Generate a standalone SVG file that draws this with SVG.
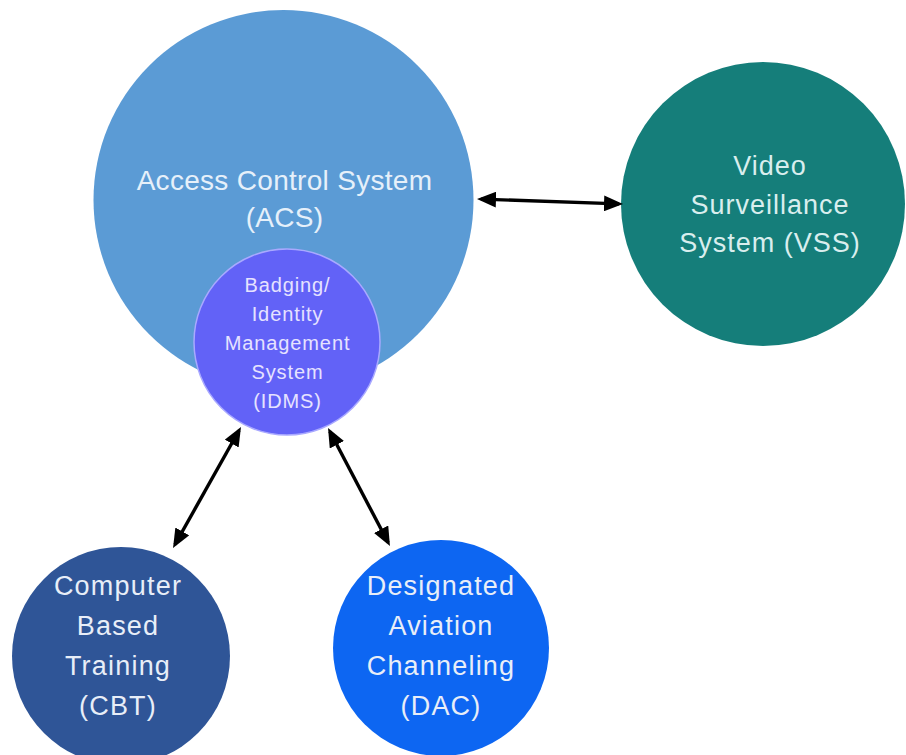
<svg xmlns="http://www.w3.org/2000/svg" width="906" height="755" viewBox="0 0 906 755">
<defs>
<style>
text{font-family:"Liberation Sans","Open Sans",Arial,sans-serif;text-anchor:middle}
.acs{font-size:28px;fill:#e6f0fa;letter-spacing:0.3px}
.vss{font-size:27px;fill:#d9eeee;letter-spacing:1px}
.idms{font-size:20px;fill:#e6e2ff;letter-spacing:0.9px}
.low{font-size:27px;fill:#e8eef8;letter-spacing:1.2px}
.conn line{stroke:#000;stroke-width:3.4;fill:none;marker-start:url(#ah);marker-end:url(#ah)}
</style>
<marker id="ah" viewBox="0 0 19 16" refX="15" refY="8" markerWidth="19" markerHeight="16" markerUnits="userSpaceOnUse" orient="auto-start-reverse">
<path d="M0,0 L19,8 L0,16 z" fill="#000"/>
</marker>
</defs>
<rect width="906" height="755" fill="#fff"/>
<g id="acs">
<circle cx="283.5" cy="200" r="190" fill="#5b9bd5"/>
<text class="acs" x="284.5" y="190">Access Control System</text>
<text class="acs" x="284.5" y="227">(ACS)</text>
</g>
<g id="vss">
<circle cx="763" cy="204" r="142" fill="#157e7a"/>
<text class="vss" x="770" y="175">Video</text>
<text class="vss" x="770" y="214">Surveillance</text>
<text class="vss" x="770" y="252">System (VSS)</text>
</g>
<g id="idms">
<circle cx="287" cy="342" r="93" fill="#6262f7" stroke="#a9a9ff" stroke-width="1.5"/>
<text class="idms" x="287.5" y="292">Badging/</text>
<text class="idms" x="287.5" y="321">Identity</text>
<text class="idms" x="287.5" y="350">Management</text>
<text class="idms" x="287.5" y="379">System</text>
<text class="idms" x="287.5" y="408">(IDMS)</text>
</g>
<g id="cbt">
<circle cx="121" cy="656" r="109" fill="#2f5597"/>
<text class="low" x="118" y="595">Computer</text>
<text class="low" x="118" y="635">Based</text>
<text class="low" x="118" y="675">Training</text>
<text class="low" x="118" y="715">(CBT)</text>
</g>
<g id="dac">
<circle cx="441" cy="648" r="108" fill="#0d66f2"/>
<text class="low" x="441" y="595">Designated</text>
<text class="low" x="441" y="635">Aviation</text>
<text class="low" x="441" y="675">Channeling</text>
<text class="low" x="441" y="715">(DAC)</text>
</g>
<g id="connectors" class="conn">
<line x1="481" y1="199.1" x2="619" y2="203.9"/>
<line x1="239" y1="430.5" x2="175" y2="544.5"/>
<line x1="329.9" y1="431.5" x2="388.1" y2="542.5"/>
</g>
</svg>
